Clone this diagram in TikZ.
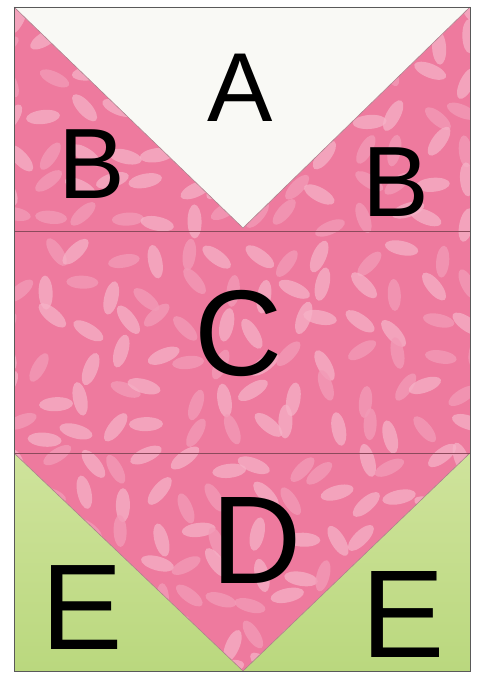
\documentclass[tikz,border=0pt]{standalone}
\usepackage{fontspec}
\setmainfont{Liberation Sans}
\definecolor{pinkbase}{HTML}{EE7A9E}
\definecolor{leafA}{HTML}{F6B2C7}
\definecolor{leafB}{HTML}{F29AB6}
\definecolor{whitefab}{HTML}{F9F9F5}
\definecolor{greenA}{HTML}{CFE39C}
\definecolor{greenB}{HTML}{BAD87E}
\definecolor{seam}{HTML}{8C4A5C}
\begin{document}
\begin{tikzpicture}[x=1pt,y=-1pt,
  letter/.style={inner sep=0pt, text=black},
  seamline/.style={draw=seam, line width=1pt}]
\useasboundingbox (0,0) rectangle (478,674);
\fill[white] (0,0) rectangle (478,674);
% pink background
\fill[pinkbase] (14,7) rectangle (470,671);
% leaf pattern in pink area
\begin{scope}
\clip (14,7) -- (243,228) -- (470,7) -- (470,453) -- (243,671) -- (14,453) -- cycle;
\pgfmathsetseed{11}
\foreach \i in {0,...,13}{
  \foreach \j in {0,...,19}{
    \pgfmathsetmacro\xx{4+\i*35+rnd*20}
    \pgfmathsetmacro\yy{0+\j*35+rnd*20}
    \pgfmathsetmacro\rr{rnd*180}
    \pgfmathsetmacro\cc{rnd}
    \ifdim\cc pt<0.4pt
      \fill[leafB, opacity=0.8, rotate around={\rr:(\xx,\yy)}] (\xx,\yy) ellipse [x radius=16pt, y radius=6.5pt];
    \else
      \fill[leafA, opacity=0.75, rotate around={\rr:(\xx,\yy)}] (\xx,\yy) ellipse [x radius=17pt, y radius=7pt];
    \fi
  }
}
\end{scope}
% white triangle A
\fill[whitefab] (14,7) -- (243,228) -- (470,7) -- cycle;
\draw[seam!70, line width=0.6pt] (14,7) -- (243,228) -- (470,7);
% green triangles E
\shade[top color=greenA, bottom color=greenB] (14,453) -- (243,671) -- (14,671) -- cycle;
\shade[top color=greenA, bottom color=greenB] (470,453) -- (243,671) -- (470,671) -- cycle;
\draw[seam!70, line width=0.6pt] (14,453) -- (243,671) -- (470,453);
% seams
\draw[seamline] (14,231) -- (470,231);
\draw[seamline] (14,453) -- (470,453);
% outline
\draw[gray!70!black, line width=0.8pt] (14,7) rectangle (470,671);
% letters
\node[letter, font=\fontsize{98}{98}\selectfont] (lA) at (240,88) {A};
\node[letter, font=\fontsize{100}{100}\selectfont] (lB1) at (92,164) {B};
\node[letter, font=\fontsize{100}{100}\selectfont] (lB2) at (396,182) {B};
\node[letter, font=\fontsize{122}{122}\selectfont] (lC) at (239,333) {C};
\node[letter, font=\fontsize{125}{125}\selectfont] (lD) at (257,540) {D};
\node[letter, font=\fontsize{122}{122}\selectfont] (lE1) at (82,608) {E};
\node[letter, font=\fontsize{125}{125}\selectfont] (lE2) at (403,614) {E};
\end{tikzpicture}
\end{document}
